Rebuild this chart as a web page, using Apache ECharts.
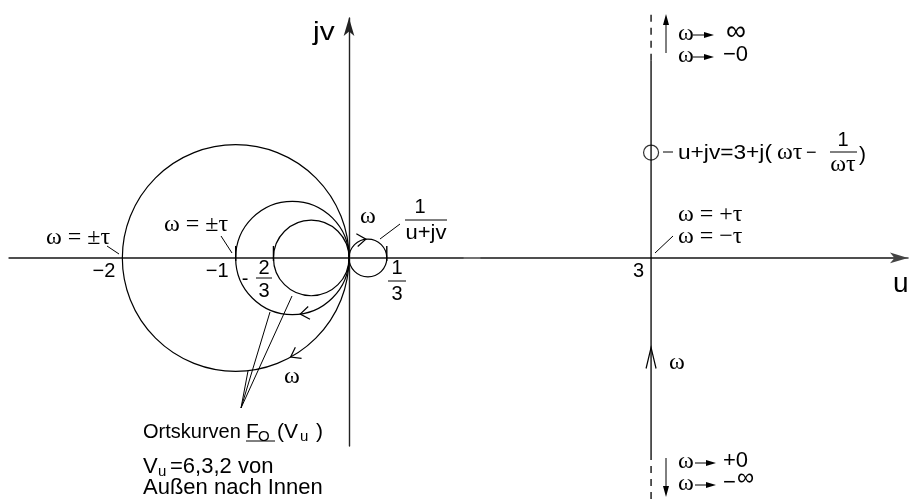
<!DOCTYPE html>
<html>
<head>
<meta charset="utf-8">
<script src="https://cdn.jsdelivr.net/npm/echarts@6/dist/echarts.min.js"></script>
<style>
  html, body { margin: 0; padding: 0; background: #fff; }
  #chart { width: 909px; height: 500px; }
</style>
</head>
<body>
<div id="chart"></div>
<script>
// Locus circles F_O(V_u) for V_u = 6, 3, 2 (outer to inner): real-axis crossings
const gainVu = [6, 3, 2];
const locusLeft = [-2, -1, -2 / 3];
const locusRight = [0, 0, 0];
// Inverse locus 1/(u+jv): circle between these real-axis crossings
const inverseSpan = [0, 1 / 3];
// Straight locus u + jv = 3 + j(ωτ − 1/(ωτ))
const lineU = 3;
const lineSolidV = [-1.72, 1.74];
const lineDashTopV = [1.74, 2.15];
const lineDashBottomV = [-1.72, -2.13];
const markedPointV = 0.93;
const lineArrowV = -0.79;
// Tick labels on the real axis
const tickValues = [-2, -1, 3];
// ω = ±τ crossings marked on the curves
const crossingMarks = [-1, -2 / 3, 1 / 3];
// Direction of increasing ω on the circles: [circle index (3 = inverse circle), angle in degrees]
const circleArrows = [[1, -82], [0, -61], [3, 96]];

const circles = locusLeft.map((l, i) => [l, locusRight[i]]).concat([inverseSpan]);

const SANS = '"Liberation Sans", Arial, sans-serif';
const SERIF = '"Liberation Serif", "Times New Roman", serif';
const INK = '#000';
const X_MIN = -3, X_MAX = 5.267;

const chart = echarts.init(document.getElementById('chart'), null, { renderer: 'canvas' });

function txt(text, x, y, opt) {
  opt = opt || {};
  return {
    type: 'text', z: 50,
    style: {
      text: text, x: x, y: y,
      fontSize: opt.size || 21,
      fontFamily: opt.family || SANS,
      fill: INK,
      textAlign: opt.align || 'left',
      textVerticalAlign: 'middle'
    },
    scaleX: opt.sx || 1,
    originX: x, originY: y
  };
}
function w(text, x, y, size, opt) {
  // serif Greek letters
  return txt(text, x, y, Object.assign({ family: SERIF, size: size || 24, sx: 1.0 }, opt || {}));
}
function seg(x1, y1, x2, y2, lw) {
  return { type: 'line', z: 50, shape: { x1: x1, y1: y1, x2: x2, y2: y2 }, style: { stroke: INK, lineWidth: lw || 1 } };
}
function head(x, y, dir, len, half) {
  // filled arrow head with its tip at (x, y)
  let pts;
  if (dir === 'up') pts = [[x, y], [x - half, y + len], [x + half, y + len]];
  else if (dir === 'down') pts = [[x, y], [x - half, y - len], [x + half, y - len]];
  else pts = [[x, y], [x - len, y - half], [x - len, y + half]];
  return { type: 'polygon', z: 50, shape: { points: pts }, style: { fill: INK } };
}
function omegaArrow(x, y) {
  return [seg(x, y, x + 12, y, 1), head(x + 21, y, 'right', 10, 3)];
}

const graphics = [].concat(
  [
    txt('jv', 313, 33, { size: 26, sx: 1.15 }),
    txt('u', 893, 284, { size: 28 }),
    // ω = ±τ labels with leaders
    w('ω = ±τ', 46, 238),
    seg(107, 246, 119, 254),
    w('ω = ±τ', 164, 225),
    seg(221, 236, 232, 253),
    // 1/(u+jv)
    w('ω', 368, 217, 24, { align: 'center' }),
    txt('1', 420, 207, { size: 20, align: 'center' }),
    seg(405, 220, 447, 220),
    txt('u+jv', 426, 233, { size: 20, align: 'center', sx: 1.1 }),
    seg(380, 239, 400, 224),
    // −2/3 and 1/3
    txt('-', 245, 279, { size: 20, align: 'center' }),
    txt('2', 264, 268, { size: 20, align: 'center' }),
    seg(256, 278, 272, 278),
    txt('3', 264, 291, { size: 20, align: 'center' }),
    txt('1', 397, 268, { size: 20, align: 'center' }),
    seg(388, 281, 406, 281),
    txt('3', 397, 294, { size: 20, align: 'center' }),
    w('ω', 292, 377, 24, { align: 'center' }),
    // Ortskurven note with leaders to the three circles
    seg(241, 408, 248, 371), seg(241, 408, 270, 312), seg(241, 408, 292, 296),
    txt('Ortskurven', 143, 432, { size: 20 }),
    txt('F', 246, 432, { size: 21 }),
    txt('O', 258, 437, { size: 15 }),
    seg(246, 441, 275, 441),
    txt('(V', 277, 432, { size: 21 }),
    txt('u', 300, 437, { size: 15 }),
    txt(')', 316, 432, { size: 21 }),
    txt('V', 143, 467, { size: 22 }),
    txt('u', 158, 472, { size: 15 }),
    txt('=6,3,2 von', 170, 467, { size: 22 }),
    txt('Außen nach Innen', 143, 488, { size: 22 }),
    // right locus annotations
    seg(666, 53, 666, 24), head(666, 14, 'up', 11, 3),
    w('ω', 678, 34),
    txt('∞', 726, 32, { size: 28 }),
    w('ω', 678, 56),
    txt('−0', 723, 55, { size: 22 }),
    seg(663, 152, 673, 152),
    txt('u+jv=3+j(', 678, 153, { size: 21, sx: 1.08 }),
    w('ωτ', 777, 153),
    txt('−', 806, 153, { size: 18 }),
    txt('1', 843, 140, { size: 20, align: 'center' }),
    seg(830, 152, 857, 152),
    w('ωτ', 843, 165, 24, { align: 'center' }),
    txt(')', 859, 155, { size: 21 }),
    w('ω = +τ', 678, 215),
    w('ω = −τ', 678, 237),
    seg(655, 253, 673, 236),
    w('ω', 669, 363),
    w('ω', 678, 462),
    txt('+0', 723, 461, { size: 22 }),
    w('ω', 678, 484),
    txt('−', 723, 483, { size: 22 }),
    txt('∞', 737, 478, { size: 24 }),
    seg(666, 458, 666, 487), head(666, 497, 'down', 11, 3)
  ],
  omegaArrow(693, 35), omegaArrow(693, 57),
  omegaArrow(695, 463), omegaArrow(695, 485)
);

const option = {
  backgroundColor: '#fff',
  animation: false,
  grid: { left: 9, right: 1, top: 18, bottom: 54 },
  xAxis: {
    type: 'value',
    min: X_MIN, max: X_MAX,
    breaks: [{ start: 1.0, end: 1.5, gap: 0.165 }],
    breakArea: { show: false },
    axisLine: { onZero: true, lineStyle: { color: '#444', width: 1.6 }, symbol: ['none', 'arrow'], symbolSize: [8, 18] },
    axisTick: { show: false },
    splitLine: { show: false },
    axisLabel: { show: false }
  },
  yAxis: {
    type: 'value',
    min: -1.659, max: 2.117,
    axisLine: { onZero: true, lineStyle: { color: '#222', width: 1.4 }, symbol: ['none', 'arrow'], symbolSize: [8, 18] },
    axisTick: { show: false },
    axisLabel: { show: false },
    splitLine: { show: false }
  },
  graphic: { elements: graphics },
  series: [
    {
      // real axis drawn continuously across the compressed stretch
      type: 'line', clip: false, symbol: 'none', z: 1, silent: true,
      data: [[X_MIN, 0], [X_MAX - 0.1, 0]],
      lineStyle: { color: '#444', width: 1.6 }
    },
    {
      // tick labels on the real axis
      type: 'custom', clip: false, z: 20,
      data: tickValues.map(u => [u, 0]),
      renderItem: (params, api) => {
        const p = api.coord([api.value(0), 0]);
        return {
          type: 'text',
          style: {
            text: String(api.value(0)).replace('-', '−'),
            x: p[0] - 7, y: p[1] + 14,
            textAlign: 'right', textVerticalAlign: 'middle',
            fontSize: 20, fontFamily: SANS, fill: INK
          }
        };
      }
    },
    {
      // locus circles
      type: 'custom', clip: false, z: 10,
      data: circles,
      renderItem: (params, api) => {
        const a = api.coord([api.value(0), 0]);
        const b = api.coord([api.value(1), 0]);
        return {
          type: 'circle',
          shape: { cx: (a[0] + b[0]) / 2, cy: a[1], r: Math.abs(b[0] - a[0]) / 2 },
          style: { fill: 'none', stroke: INK, lineWidth: 1.2 }
        };
      }
    },
    {
      // short marks where ω = ±τ meets the real axis
      type: 'custom', clip: false, z: 11,
      data: crossingMarks.map(u => [u, 0]),
      renderItem: (params, api) => {
        const p = api.coord([api.value(0), 0]);
        return { type: 'line', shape: { x1: p[0], y1: p[1] - 12, x2: p[0], y2: p[1] + 3 }, style: { stroke: INK, lineWidth: 1.4 } };
      }
    },
    {
      // ω direction chevrons on the circles
      type: 'custom', clip: false, z: 12,
      data: circleArrows,
      renderItem: (params, api) => {
        const c = circles[api.value(0)];
        const th = api.value(1) * Math.PI / 180;
        const cx = (c[0] + c[1]) / 2, r = Math.abs(c[1] - c[0]) / 2;
        const p = api.coord([cx + r * Math.cos(th), r * Math.sin(th)]);
        // clockwise tangent in screen direction (y down)
        const dx = Math.sin(th), dy = Math.cos(th);
        const len = 11, half = 0.62;
        const arm = s => {
          const ca = Math.cos(s * half), sa = Math.sin(s * half);
          const bx = -dx, by = -dy;
          return [p[0] + len * (bx * ca - by * sa), p[1] + len * (bx * sa + by * ca)];
        };
        return { type: 'polyline', shape: { points: [arm(1), p, arm(-1)] }, style: { fill: 'none', stroke: INK, lineWidth: 1.2 } };
      }
    },
    {
      // straight locus at u = 3 (finite part)
      type: 'line', clip: false, symbol: 'none', z: 10,
      data: lineSolidV.map(v => [lineU, v]),
      lineStyle: { color: INK, width: 1.3 }
    },
    {
      type: 'line', clip: false, symbol: 'none', z: 10,
      data: lineDashTopV.map(v => [lineU, v]),
      lineStyle: { color: INK, width: 1.3, type: [7, 6] }
    },
    {
      type: 'line', clip: false, symbol: 'none', z: 10,
      data: lineDashBottomV.map(v => [lineU, v]),
      lineStyle: { color: INK, width: 1.3, type: [7, 6] }
    },
    {
      // generic point on the straight locus
      type: 'scatter', clip: false, z: 13,
      data: [[lineU, markedPointV]],
      symbol: 'circle', symbolSize: 15,
      itemStyle: { color: 'rgba(0,0,0,0)', borderColor: INK, borderWidth: 1.2 }
    },
    {
      // ω direction chevron on the straight locus
      type: 'custom', clip: false, z: 12,
      data: [[lineU, lineArrowV]],
      renderItem: (params, api) => {
        const p = api.coord([api.value(0), api.value(1)]);
        return { type: 'polyline', shape: { points: [[p[0] - 5, p[1] + 21], p, [p[0] + 5, p[1] + 21]] }, style: { fill: 'none', stroke: INK, lineWidth: 1.2 } };
      }
    }
  ]
};
chart.setOption(option);
</script>
</body>
</html>
